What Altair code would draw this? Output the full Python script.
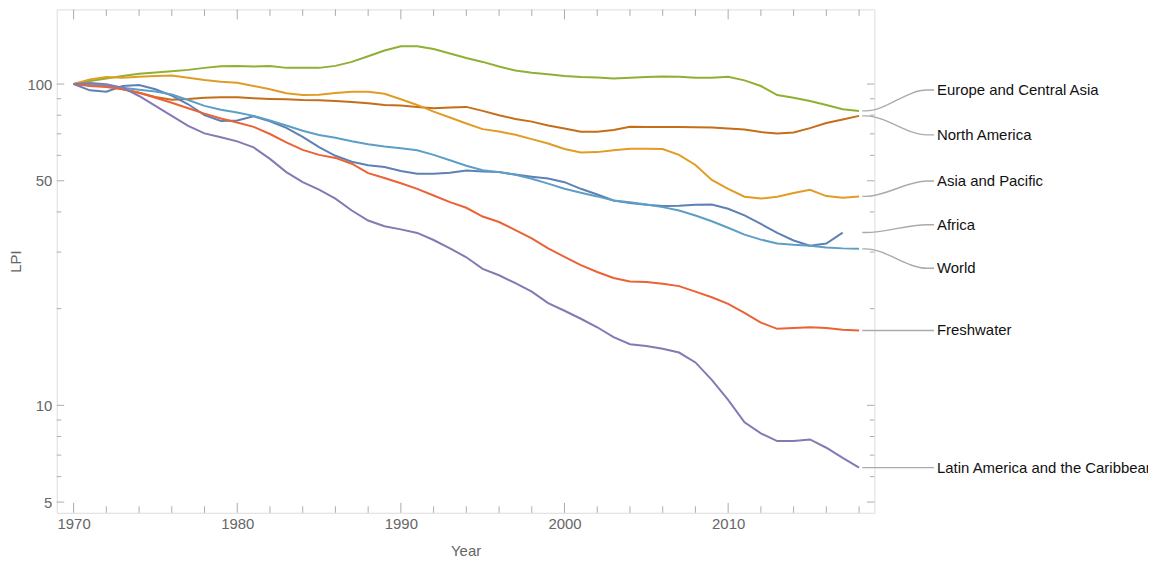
import altair as alt
import pandas as pd

years = list(range(1970, 2019))

series_names = [
    "Europe and Central Asia", "North America", "Asia and Pacific",
    "Africa", "World", "Freshwater", "Latin America and the Caribbean",
]
series_colors = ["#8fb032", "#c56e1a", "#e19c24", "#5e81b5", "#5d9ec7", "#eb6235", "#8778b3"]

europe = [100, 102.2, 104.1, 105.9, 107.6, 108.7, 109.7, 110.7, 112.3, 113.7,
          113.9, 113.4, 113.9, 112.3, 112.3, 112.3, 113.9, 117.2, 122.1, 127.2,
          131.1, 131.1, 128.6, 124.5, 120.6, 117.2, 113.4, 110.2, 108.4, 107.2,
          105.9, 105.1, 104.8, 104.1, 104.6, 105.1, 105.6, 105.4, 104.6, 104.6,
          105.4, 102.7, 98.6, 92.4, 90.7, 88.6, 86.1, 83.5, 82.5]
north_america = [100, 99.8, 98.6, 96.3, 94.0, 91.1, 89.4, 89.9, 90.7, 90.9,
                 90.9, 90.3, 89.9, 89.7, 89.2, 89.0, 88.6, 87.9, 87.1, 86.1,
                 85.7, 84.9, 84.1, 84.5, 84.9, 82.5, 80.0, 77.9, 76.4, 74.3,
                 72.7, 71.0, 71.1, 72.0, 73.6, 73.5, 73.5, 73.5, 73.4, 73.3,
                 72.7, 72.2, 70.9, 70.2, 70.7, 72.9, 75.6, 77.6, 79.6]
asia_pacific = [100, 103.4, 105.1, 104.6, 105.4, 105.9, 106.4, 104.6, 102.9, 101.7,
                100.9, 98.6, 96.3, 93.6, 92.5, 92.7, 93.8, 94.7, 94.7, 93.3,
                89.7, 86.1, 82.1, 78.7, 75.4, 72.4, 71.2, 69.5, 67.4, 65.3,
                62.8, 61.2, 61.4, 62.2, 62.9, 62.9, 62.8, 60.2, 56.0, 50.3,
                47.2, 44.6, 44.0, 44.6, 45.8, 46.9, 44.8, 44.3, 44.7]
africa = [100, 95.6, 94.7, 98.6, 99.3, 96.3, 92.0, 86.5, 80.0, 76.8,
          77.0, 79.4, 76.6, 73.1, 68.5, 63.6, 59.8, 57.3, 55.9, 55.2,
          53.6, 52.6, 52.6, 53.0, 53.8, 53.4, 53.2, 52.3, 51.5, 50.8,
          49.5, 47.2, 45.3, 43.4, 42.6, 42.1, 41.7, 41.8, 42.1, 42.2,
          40.9, 39.0, 36.7, 34.4, 32.6, 31.4, 31.9, 34.5]
world = [100, 99.8, 98.6, 97.4, 96.0, 94.8, 92.8, 89.2, 85.5, 83.2,
         81.5, 79.6, 77.0, 74.3, 71.6, 69.4, 68.1, 66.4, 65.0, 63.9,
         63.1, 62.2, 60.2, 57.9, 55.7, 53.9, 53.2, 52.2, 50.7, 49.0,
         47.2, 45.9, 44.7, 43.4, 42.9, 42.2, 41.4, 40.4, 39.0, 37.4,
         35.7, 34.0, 32.8, 31.9, 31.6, 31.4, 31.0, 30.8, 30.7]
freshwater = [100, 98.6, 97.9, 96.3, 94.0, 90.7, 87.5, 84.1, 80.9, 78.1,
              75.9, 73.6, 69.9, 65.8, 62.4, 60.2, 58.9, 56.5, 52.8, 51.0,
              49.1, 47.2, 45.0, 42.9, 41.2, 38.7, 37.2, 35.1, 33.1, 30.8,
              29.0, 27.3, 26.0, 24.9, 24.3, 24.2, 23.9, 23.5, 22.6, 21.7,
              20.7, 19.4, 18.1, 17.3, 17.4, 17.5, 17.4, 17.2, 17.1]
latin_america = [100, 100.7, 99.8, 97.4, 91.8, 85.5, 79.6, 74.1, 70.2, 68.3,
                 66.3, 63.5, 58.5, 53.2, 49.5, 46.9, 44.0, 40.4, 37.6, 36.1,
                 35.3, 34.4, 32.7, 30.8, 28.9, 26.6, 25.4, 24.0, 22.6, 20.8,
                 19.7, 18.6, 17.5, 16.3, 15.5, 15.3, 15.0, 14.6, 13.6, 12.0,
                 10.4, 8.86, 8.18, 7.74, 7.74, 7.83, 7.38, 6.86, 6.40]

all_series = [europe, north_america, asia_pacific, africa, world, freshwater, latin_america]

# value (LPI) at which each right-hand label sits
label_at = [95.8, 69.5, 49.9, 36.5, 26.7, 17.1, 6.40]

x_major = [1970, 1980, 1990, 2000, 2010]
x_minor = [1972, 1974, 1976, 1978, 1982, 1984, 1986, 1988, 1992, 1994, 1996, 1998,
           2002, 2004, 2006, 2008, 2012, 2014, 2016, 2018]
y_major = [5, 10, 50, 100]
y_minor = [6, 7, 8, 9, 20, 30, 40, 60, 70, 80, 90]

# ---- layout / style ----
X_DOMAIN = [1968.97, 2018.94]
Y_DOMAIN = [4.63, 170.7]
W, H = 822, 506
FRAME = "#ababab"
TEXT_GREY = "#666666"
FONT = "Liberation Sans"
CONN_X = [2018.2, 2018.4, 2022.15, 2022.58]
LABEL_X = 2022.58

rows = []
for name, vals in zip(series_names, all_series):
    for yr, v in zip(years, vals):
        rows.append({"series": name, "year": yr, "lpi": v})
df = pd.DataFrame(rows)

conn_rows = []
lab_rows = []
for name, vals, lab in zip(series_names, all_series, label_at):
    ys_ = [vals[-1], vals[-1], lab, lab]
    for k, (cx, cy) in enumerate(zip(CONN_X, ys_)):
        conn_rows.append({"series": name, "year": cx, "lpi": cy, "k": k})
    lab_rows.append({"series": name, "year": LABEL_X, "lpi": lab})
conn_df = pd.DataFrame(conn_rows)
lab_df = pd.DataFrame(lab_rows)

xs = alt.Scale(domain=X_DOMAIN, nice=False, zero=False)
ys = alt.Scale(type="log", domain=Y_DOMAIN, nice=False)

x_axis = alt.Axis(values=x_major, format="d", ticks=False, domain=False, grid=False,
                  labelPadding=4, labelFontSize=15, labelColor=TEXT_GREY, labelFont=FONT,
                  title="Year", titleFontSize=15, titleColor=TEXT_GREY, titleFont=FONT,
                  titleFontWeight="normal", titlePadding=12)
y_axis = alt.Axis(values=y_major, format="d", ticks=False, domain=False, grid=False,
                  labelPadding=5, labelFontSize=15, labelColor=TEXT_GREY, labelFont=FONT,
                  title="LPI", titleFontSize=15, titleColor=TEXT_GREY, titleFont=FONT,
                  titleFontWeight="normal", titlePadding=3)

def X():
    return alt.X("year:Q", scale=xs, axis=x_axis)

def Y():
    return alt.Y("lpi:Q", scale=ys, axis=y_axis)

color = alt.Color("series:N", scale=alt.Scale(domain=series_names, range=series_colors), legend=None)

lines = alt.Chart(df).mark_line(strokeWidth=2).encode(
    x=X(), y=Y(), color=color, detail="series:N"
)

connectors = alt.Chart(conn_df).mark_line(
    interpolate="monotone", color="#aaaaaa", strokeWidth=1.4, clip=False
).encode(x=X(), y=Y(), detail="series:N", order="k:Q")

labels = alt.Chart(lab_df).mark_text(
    align="left", baseline="middle", dx=3, fontSize=15, font=FONT, color="#111111", clip=False
).encode(x=X(), y=Y(), text="series:N")

xmaj_df = pd.DataFrame({"year": x_major})
xmin_df = pd.DataFrame({"year": x_minor})
ymaj_df = pd.DataFrame({"lpi": y_major})
ymin_df = pd.DataFrame({"lpi": y_minor})

def xticks(data, length):
    bottom = alt.Chart(data).mark_rule(color=FRAME, strokeWidth=1).encode(
        x=X(), y=alt.value(H), y2=alt.value(H - length))
    top = alt.Chart(data).mark_rule(color=FRAME, strokeWidth=1).encode(
        x=X(), y=alt.value(0), y2=alt.value(length))
    return [bottom, top]

def yticks(data, length):
    left = alt.Chart(data).mark_rule(color=FRAME, strokeWidth=1).encode(
        y=Y(), x=alt.value(0), x2=alt.value(length))
    right = alt.Chart(data).mark_rule(color=FRAME, strokeWidth=1).encode(
        y=Y(), x=alt.value(W), x2=alt.value(W - length))
    return [left, right]

tick_layers = xticks(xmaj_df, 10) + xticks(xmin_df, 6.5) + yticks(ymaj_df, 7.5) + yticks(ymin_df, 4.5)

chart = alt.layer(*tick_layers, connectors, lines, labels).properties(
    width=W, height=H,
    autosize=alt.AutoSizeParams(type="none"),
    padding={"left": 49, "top": 0, "right": 275, "bottom": 44},
).configure_view(
    stroke=FRAME, strokeWidth=1
).configure(background="white")

chart.save("out.html", embed_options={"renderer": "svg", "actions": False})
